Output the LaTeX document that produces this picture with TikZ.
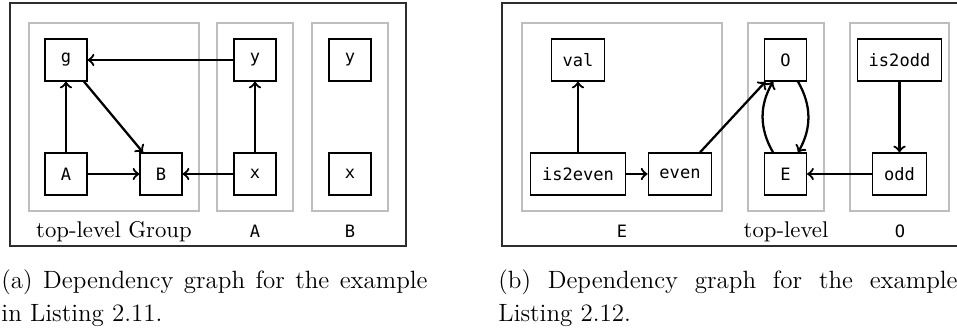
\documentclass[tikz,border=0pt]{standalone}
\usepackage{fontspec}
\setmonofont{DejaVu Sans Mono}[Scale=0.75]
\usepackage{color}
\definecolor{framegray}{RGB}{45, 45, 45}
\definecolor{groupgray}{RGB}{190, 190, 190}

\tikzset{
  modbox/.style={draw, line width=0.5pt, minimum size=18.5pt, inner xsep=5pt, font=\ttfamily},
  dep/.style={->, line width=1pt},
  groupbox/.style={draw=groupgray, line width=0.55pt},
  grouplabel/.style={anchor=base, inner sep=0pt},
  capline/.style={anchor=base west, inner sep=0pt, font=\fontsize{11}{13}\selectfont}
}

\begin{document}
\begin{tikzpicture}[x=0.44pt, y=-0.44pt]
      \useasboundingbox (0,0) rectangle (957,329);
      \clip (0,0) rectangle (957,329);
      % Outer frames of both graphs
      \draw[framegray, line width=0.6pt] (10,3) rectangle (406,246);
      \draw[framegray, line width=0.6pt] (502,3) rectangle (975,246);
      % Module groups
      \foreach \xa/\xb in {29/199, 217/293, 312/388, 522/722, 748/824, 850/949}{
        \draw[groupbox] (\xa,23) rectangle (\xb,211);
      }
      % Group names
      \node[grouplabel] (lblTopGroup) at (114,237) {top-level Group};
      \node[grouplabel, font=\ttfamily] (lblA) at (255,237) {A};
      \node[grouplabel, font=\ttfamily] (lblB) at (350,237) {B};
      \node[grouplabel, font=\ttfamily] (lblE) at (622,237) {E};
      \node[grouplabel] (lblTop) at (786,237) {top-level};
      \node[grouplabel, font=\ttfamily] (lblO) at (900,237) {O};

      % Left graph
      \node[modbox] (g) at (66,60) {g};
      \node[modbox] (tA) at (66,174) {A};
      \node[modbox] (tB) at (161,174) {B};
      \node[modbox] (Ay) at (255,60) {y};
      \node[modbox] (Ax) at (255,174) {x};
      \node[modbox] (By) at (350,60) {y};
      \node[modbox] (Bx) at (350,174) {x};
      \draw[dep] (tA) -- (g);
      \draw[dep] (g) -- (tB);
      \draw[dep] (tA) -- (tB);
      \draw[dep] (Ax) -- (tB);
      \draw[dep] (Ax) -- (Ay);
      \draw[dep] (Ay) -- (g);

      % Right graph
      \node[modbox] (val) at (578,60) {val};
      \node[modbox] (is2even) at (578,174) {is2even};
      \node[modbox] (even) at (680,174) {even};
      \node[modbox] (topO) at (785.5,60) {O};
      \node[modbox] (topE) at (785.5,174) {E};
      \node[modbox] (is2odd) at (899.5,60) {is2odd};
      \node[modbox] (odd) at (899.5,174) {odd};
      \draw[dep] (is2even) -- (val);
      \draw[dep] (is2even) -- (even);
      \draw[dep] (even) -- (topO);
      \draw[dep] (topE) to[bend left=30] (topO);
      \draw[dep] (topO) to[bend left=30] (topE);
      \draw[dep] (odd) -- (topE);
      \draw[dep] (is2odd) -- (odd);

      % Captions
      \node[capline] (capA1) at (1,288) {\makebox[187.5pt][s]{(a) Dependency graph for the example}};
      \node[capline] (capA2) at (1,321) {in Listing 2.11.};
      \node[capline] (capB1) at (498,288) {\makebox[202pt][s]{(b) Dependency graph for the example}};
      \node[capline] (capB2) at (498,321) {Listing 2.12.};
    \end{tikzpicture}
\end{document}
